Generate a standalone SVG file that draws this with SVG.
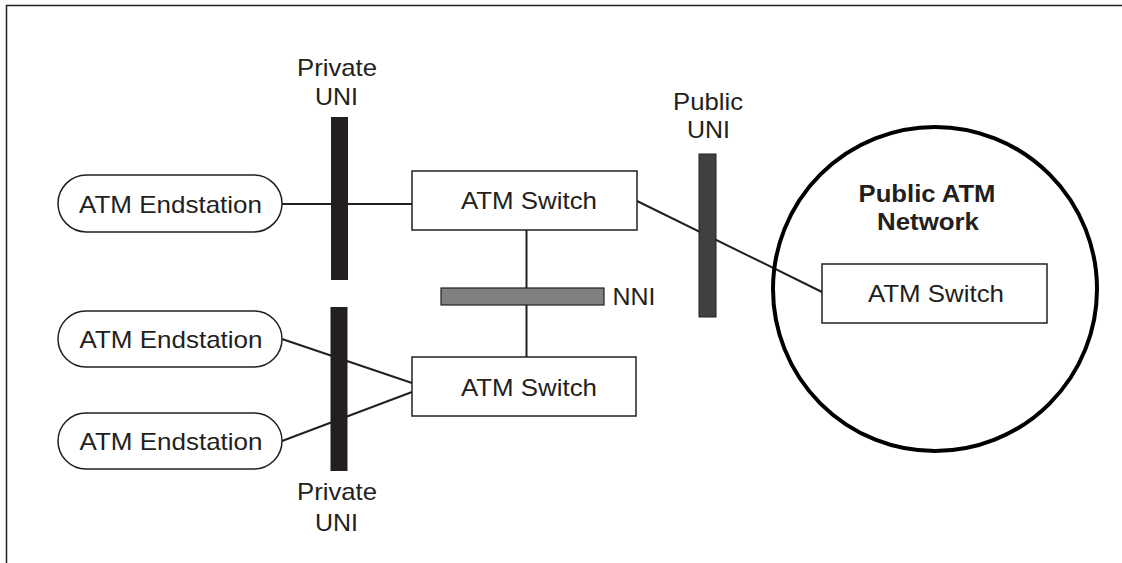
<svg xmlns="http://www.w3.org/2000/svg" width="1122" height="563" viewBox="0 0 1122 563">
<style>
text{font-family:"Liberation Sans",Arial,sans-serif;font-size:24px;fill:#231f20;text-anchor:middle}
.b{font-weight:bold}
.pill,.box{fill:#fff;stroke:#231f20;stroke-width:1.5}
.ln{stroke:#231f20;stroke-width:2;fill:none}
.priv{fill:#231f20}
.pub{fill:#404040;stroke:#231f20;stroke-width:1}
.nni{fill:#808080;stroke:#231f20;stroke-width:1.2}
</style>
<rect width="1122" height="563" fill="#fff"/>
<path d="M6.5 563V5.5H1122" fill="none" stroke="#231f20" stroke-width="1.5"/>
<g id="connectors">
<line class="ln" x1="282" y1="204" x2="412" y2="204"/>
<line class="ln" x1="637" y1="201" x2="822" y2="292"/>
<line class="ln" x1="526.5" y1="230" x2="526.5" y2="357"/>
<line class="ln" x1="282" y1="339" x2="412" y2="383"/>
<line class="ln" x1="282" y1="441" x2="412" y2="392"/>
</g>
<g id="private-uni-top">
<rect class="priv" x="331" y="117" width="17" height="163"/>
<text x="337" y="76" textLength="80" lengthAdjust="spacingAndGlyphs">Private</text>
<text x="336.5" y="105" textLength="43" lengthAdjust="spacingAndGlyphs">UNI</text>
</g>
<g id="private-uni-bottom">
<rect class="priv" x="330.5" y="307" width="17" height="164"/>
<text x="337" y="500" textLength="80" lengthAdjust="spacingAndGlyphs">Private</text>
<text x="336.5" y="531" textLength="43" lengthAdjust="spacingAndGlyphs">UNI</text>
</g>
<g id="public-uni">
<rect class="pub" x="699" y="154" width="17" height="163"/>
<text x="708" y="110" textLength="70" lengthAdjust="spacingAndGlyphs">Public</text>
<text x="708.5" y="138" textLength="43" lengthAdjust="spacingAndGlyphs">UNI</text>
</g>
<g id="nni">
<rect class="nni" x="441" y="288" width="163" height="17"/>
<text x="634" y="305" textLength="43" lengthAdjust="spacingAndGlyphs">NNI</text>
</g>
<g id="endstation-1">
<rect class="pill" x="58" y="175" width="224" height="57" rx="28.5"/>
<text x="170.5" y="213" textLength="183" lengthAdjust="spacingAndGlyphs">ATM Endstation</text>
</g>
<g id="endstation-2">
<rect class="pill" x="58" y="311" width="224" height="56" rx="28"/>
<text x="171" y="348" textLength="183" lengthAdjust="spacingAndGlyphs">ATM Endstation</text>
</g>
<g id="endstation-3">
<rect class="pill" x="58" y="413" width="224" height="56" rx="28"/>
<text x="171" y="450" textLength="183" lengthAdjust="spacingAndGlyphs">ATM Endstation</text>
</g>
<g id="switch-1">
<rect class="box" x="412" y="171" width="225" height="59"/>
<text x="529" y="209" textLength="136" lengthAdjust="spacingAndGlyphs">ATM Switch</text>
</g>
<g id="switch-2">
<rect class="box" x="412" y="357" width="224" height="59"/>
<text x="529" y="396" textLength="136" lengthAdjust="spacingAndGlyphs">ATM Switch</text>
</g>
<g id="public-network">
<circle cx="935" cy="289" r="162" fill="none" stroke="#000" stroke-width="4"/>
<text class="b" x="927" y="202" textLength="137" lengthAdjust="spacingAndGlyphs">Public ATM</text>
<text class="b" x="928" y="230" textLength="102" lengthAdjust="spacingAndGlyphs">Network</text>
</g>
<g id="switch-3">
<rect class="box" x="822" y="264" width="225" height="59"/>
<text x="936" y="302" textLength="136" lengthAdjust="spacingAndGlyphs">ATM Switch</text>
</g>
</svg>
